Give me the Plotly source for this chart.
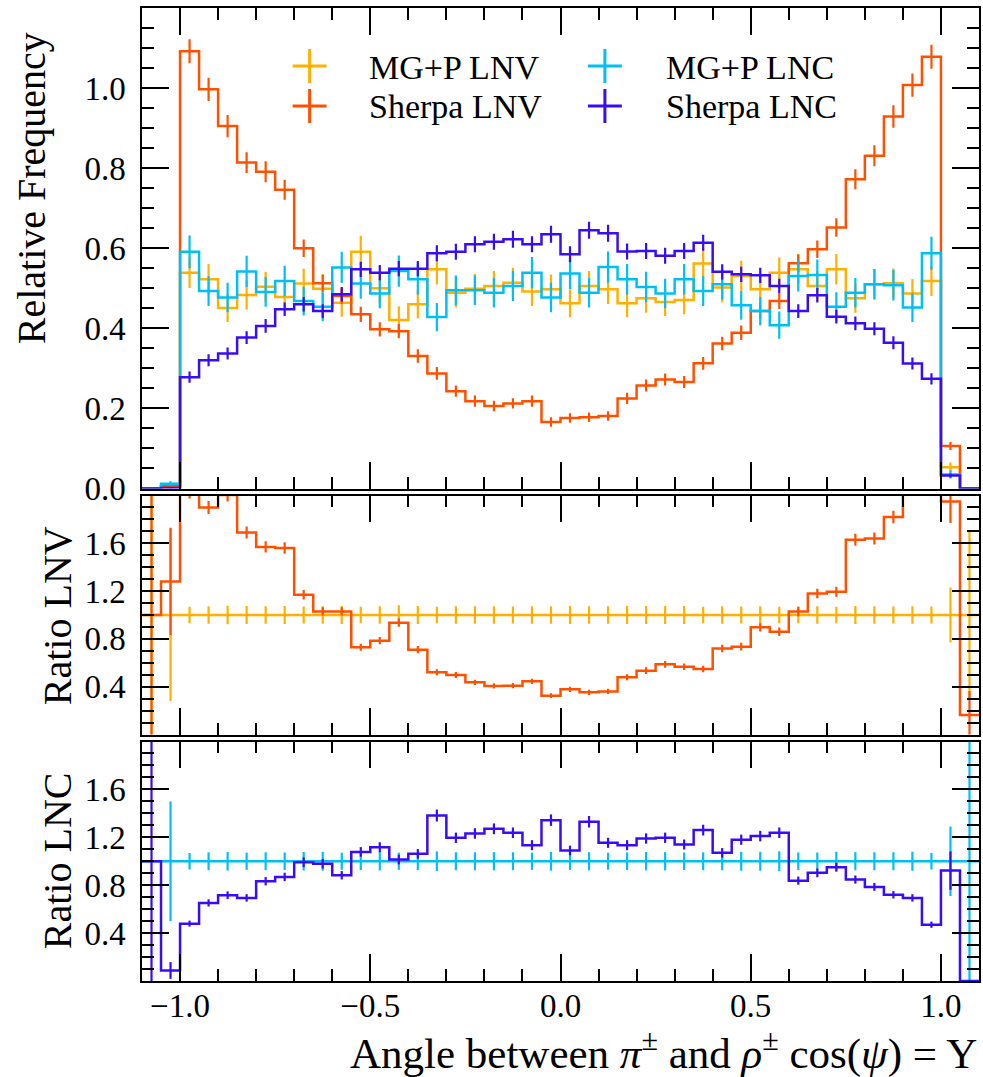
import plotly.graph_objects as go

# ---------------- data ----------------
bin_edges = [round(-1.1 + 0.05 * i, 2) for i in range(45)]
bin_centers = [round(-1.075 + 0.05 * i, 3) for i in range(44)]

mgp_lnv = [0.0, 0.005,
           0.539, 0.5225, 0.451, 0.483, 0.504, 0.478, 0.512, 0.499, 0.464, 0.591,
           0.5, 0.421, 0.46, 0.5475, 0.489, 0.499, 0.506, 0.514, 0.492, 0.4975,
           0.4625, 0.506, 0.4975, 0.4625, 0.475, 0.466, 0.471, 0.562, 0.502, 0.531,
           0.4975, 0.539, 0.5475, 0.506, 0.5475, 0.475, 0.51, 0.5125, 0.487, 0.518,
           0.053, 0.0]
mgp_lnv_err = [0.0, 0.004,
               0.038, 0.038, 0.035, 0.036, 0.037, 0.036, 0.037, 0.037, 0.035, 0.040,
               0.037, 0.034, 0.035, 0.038, 0.036, 0.037, 0.037, 0.037, 0.036, 0.037,
               0.035, 0.037, 0.037, 0.035, 0.036, 0.035, 0.036, 0.039, 0.037, 0.038,
               0.037, 0.038, 0.038, 0.037, 0.038, 0.036, 0.037, 0.037, 0.036, 0.037,
               0.012, 0.0]

sherpa_lnv = [0.0, 0.0064,
              1.092, 0.997, 0.905, 0.814, 0.791, 0.746, 0.6, 0.5125, 0.481, 0.435,
              0.3975, 0.393, 0.331, 0.2875, 0.243, 0.218, 0.206, 0.2125, 0.218, 0.166,
              0.176, 0.178, 0.181, 0.225, 0.2575, 0.2725, 0.266, 0.3125, 0.362, 0.389,
              0.443, 0.468, 0.5625, 0.5975, 0.652, 0.7725, 0.831, 0.929, 1.0075, 1.078,
              0.106, 0.0]
sherpa_lnv_err = [0.0, 0.004,
                  0.030, 0.029, 0.028, 0.026, 0.026, 0.025, 0.022, 0.021, 0.020, 0.019,
                  0.018, 0.018, 0.017, 0.016, 0.014, 0.014, 0.013, 0.013, 0.014, 0.012,
                  0.012, 0.012, 0.012, 0.014, 0.015, 0.015, 0.015, 0.016, 0.017, 0.018,
                  0.019, 0.020, 0.022, 0.022, 0.023, 0.025, 0.026, 0.028, 0.029, 0.030,
                  0.010, 0.0]

mgp_lnc = [0.0, 0.012,
           0.591, 0.493, 0.477, 0.542, 0.491, 0.518, 0.468, 0.454, 0.552, 0.512,
           0.487, 0.543, 0.5225, 0.428, 0.495, 0.495, 0.489, 0.506, 0.539, 0.477,
           0.537, 0.489, 0.553, 0.5225, 0.503, 0.487, 0.5225, 0.493, 0.51, 0.4575,
           0.443, 0.408, 0.531, 0.533, 0.454, 0.489, 0.51, 0.5075, 0.452, 0.5875,
           0.035, 0.0]
mgp_lnc_err = [0.0, 0.006,
               0.041, 0.037, 0.037, 0.039, 0.037, 0.038, 0.036, 0.036, 0.039, 0.038,
               0.037, 0.039, 0.038, 0.035, 0.037, 0.037, 0.037, 0.038, 0.039, 0.037,
               0.039, 0.037, 0.039, 0.038, 0.038, 0.037, 0.038, 0.037, 0.038, 0.036,
               0.035, 0.034, 0.039, 0.039, 0.036, 0.037, 0.038, 0.038, 0.036, 0.041,
               0.010, 0.0]

sherpa_lnc = [0.0, 0.001,
              0.278, 0.32, 0.337, 0.377, 0.406, 0.4475, 0.46, 0.443, 0.485, 0.5475,
              0.539, 0.549, 0.549, 0.5875, 0.591, 0.61, 0.616, 0.6225, 0.61, 0.635,
              0.585, 0.645, 0.6375, 0.592, 0.593, 0.581, 0.593, 0.614, 0.541, 0.535,
              0.5325, 0.506, 0.443, 0.4825, 0.429, 0.4125, 0.399, 0.364, 0.312, 0.274,
              0.0325, 0.0]
sherpa_lnc_err = [0.0, 0.001,
                  0.014, 0.015, 0.015, 0.016, 0.017, 0.017, 0.018, 0.017, 0.018, 0.019,
                  0.019, 0.019, 0.019, 0.020, 0.020, 0.020, 0.020, 0.021, 0.020, 0.021,
                  0.020, 0.021, 0.021, 0.020, 0.020, 0.020, 0.020, 0.020, 0.019, 0.019,
                  0.019, 0.018, 0.017, 0.018, 0.017, 0.017, 0.016, 0.016, 0.015, 0.014,
                  0.005, 0.0]

# ratio panels
ratio_lnv_ref = [1.0] * 44
ratio_lnv_ref_err = [3.0, 0.72,
                     0.070, 0.073, 0.078, 0.075, 0.073, 0.075, 0.072, 0.074, 0.075, 0.068,
                     0.074, 0.081, 0.076, 0.069, 0.074, 0.074, 0.073, 0.072, 0.073, 0.074,
                     0.076, 0.073, 0.074, 0.076, 0.076, 0.075, 0.076, 0.069, 0.074, 0.072,
                     0.074, 0.070, 0.069, 0.073, 0.069, 0.076, 0.073, 0.072, 0.074, 0.071,
                     0.23, 0.70]
ratio_lnv = [1.0, 1.28,
             2.03, 1.90, 2.005, 1.69, 1.57, 1.56, 1.17, 1.03, 1.03, 0.73,
             0.785, 0.936, 0.71, 0.52, 0.498, 0.437, 0.406, 0.408, 0.445, 0.325,
             0.378, 0.353, 0.36, 0.48, 0.534, 0.587, 0.567, 0.548, 0.72, 0.735,
             0.897, 0.86, 1.03, 1.18, 1.195, 1.63, 1.64, 1.82, 2.07, 2.08,
             1.95, 0.163]
ratio_lnv_err = [3.0, 0.45,
                 0.055, 0.055, 0.055, 0.050, 0.048, 0.048, 0.040, 0.035, 0.035, 0.030,
                 0.030, 0.035, 0.030, 0.025, 0.025, 0.022, 0.022, 0.022, 0.022, 0.020,
                 0.022, 0.022, 0.022, 0.025, 0.028, 0.028, 0.028, 0.028, 0.032, 0.032,
                 0.035, 0.035, 0.040, 0.040, 0.042, 0.050, 0.050, 0.052, 0.055, 0.055,
                 0.18, 0.20]

ratio_lnc_ref = [1.0] * 44
ratio_lnc_ref_err = [0.0, 0.50,
                     0.069, 0.075, 0.078, 0.072, 0.075, 0.073, 0.077, 0.079, 0.071, 0.074,
                     0.076, 0.072, 0.073, 0.082, 0.075, 0.075, 0.076, 0.075, 0.072, 0.078,
                     0.073, 0.076, 0.071, 0.073, 0.076, 0.076, 0.073, 0.075, 0.075, 0.079,
                     0.079, 0.083, 0.073, 0.073, 0.079, 0.076, 0.075, 0.075, 0.080, 0.070,
                     0.29, 3.0]
ratio_lnc = [1.0, 0.088,
             0.479, 0.652, 0.716, 0.694, 0.833, 0.869, 0.992, 0.98, 0.883, 1.078,
             1.117, 1.014, 1.062, 1.382, 1.196, 1.232, 1.271, 1.238, 1.134, 1.343,
             1.09, 1.33, 1.154, 1.134, 1.19, 1.196, 1.14, 1.26, 1.07, 1.18,
             1.21, 1.238, 0.838, 0.903, 0.95, 0.847, 0.786, 0.72, 0.694, 0.47,
             0.922, 0.0]
ratio_lnc_err = [3.0, 0.07,
                 0.025, 0.030, 0.032, 0.031, 0.035, 0.035, 0.040, 0.040, 0.035, 0.040,
                 0.042, 0.040, 0.040, 0.050, 0.043, 0.044, 0.045, 0.044, 0.042, 0.048,
                 0.040, 0.048, 0.042, 0.042, 0.043, 0.043, 0.042, 0.045, 0.040, 0.043,
                 0.044, 0.044, 0.034, 0.036, 0.037, 0.034, 0.033, 0.031, 0.031, 0.026,
                 0.16, 0.0]

legend_labels = ["MG+P LNV", "Sherpa LNV", "MG+P LNC", "Sherpa LNC"]
C_YEL = "#FFB000"
C_ORA = "#FF5000"
C_CYA = "#00BFF5"
C_BLU = "#3A0CF5"

FONT = "Liberation Serif"
W, H = 983, 1077
ML, MR, MT, MB = 142, 2, 8, 96
PW, PH = W - ML - MR, H - MT - MB


def px_x(px):
    return (px - ML) / PW


def px_y(py):
    return (H - MB - py) / PH


fig = go.Figure()


def add_hist(vals, errs, color, xa, ya):
    fig.add_trace(go.Scatter(
        x=bin_edges, y=list(vals) + [vals[-1]], mode="lines",
        line=dict(color=color, width=2.5, shape="hv"),
        xaxis=xa, yaxis=ya, showlegend=False, hoverinfo="skip"))
    fig.add_trace(go.Scatter(
        x=bin_centers, y=vals, mode="markers",
        marker=dict(size=1, color="rgba(0,0,0,0)"),
        error_y=dict(type="data", array=errs, visible=True, color=color,
                     thickness=2.2, width=0),
        xaxis=xa, yaxis=ya, showlegend=False, hoverinfo="skip"))


# top panel
add_hist(mgp_lnv, mgp_lnv_err, C_YEL, "x", "y")
add_hist(sherpa_lnv, sherpa_lnv_err, C_ORA, "x", "y")
add_hist(mgp_lnc, mgp_lnc_err, C_CYA, "x", "y")
add_hist(sherpa_lnc, sherpa_lnc_err, C_BLU, "x", "y")
# middle
add_hist(ratio_lnv_ref, ratio_lnv_ref_err, C_YEL, "x2", "y2")
add_hist(ratio_lnv, ratio_lnv_err, C_ORA, "x2", "y2")
# bottom
add_hist(ratio_lnc_ref, ratio_lnc_ref_err, C_CYA, "x3", "y3")
add_hist(ratio_lnc, ratio_lnc_err, C_BLU, "x3", "y3")

tickfont = dict(family=FONT, size=33, color="black")
common = dict(showline=True, linewidth=1.5, linecolor="black", mirror="allticks",
              ticks="inside", ticklen=27, tickwidth=1.5, tickcolor="black",
              showgrid=False, zeroline=False, tickfont=tickfont)
minor_x = dict(ticks="inside", ticklen=12, tickwidth=1.5, tickcolor="black",
               dtick=0.1, tick0=0, showgrid=False)

xcommon = dict(common, range=[-1.1, 1.1], tickmode="array",
               tickvals=[-1.0, -0.5, 0.0, 0.5, 1.0], tickformat=".1f",
               minor=minor_x)

fig.update_layout(
    width=W, height=H,
    margin=dict(l=ML, r=MR, t=MT, b=MB),
    paper_bgcolor="white", plot_bgcolor="white",
    xaxis=dict(xcommon, anchor="y", showticklabels=False),
    xaxis2=dict(xcommon, anchor="y2", matches="x", showticklabels=False),
    xaxis3=dict(xcommon, anchor="y3", matches="x", showticklabels=True,
                ticklabelstandoff=-5),
    yaxis=dict(common, domain=[px_y(488.5), 1.0], range=[0, 1.2], tickmode="array",
               tickvals=[0.0, 0.2, 0.4, 0.6, 0.8, 1.0], tickformat=".1f",
               ticklabelstandoff=8,
               minor=dict(ticks="inside", ticklen=12, tickwidth=1.5, tickcolor="black",
                          dtick=0.05, tick0=0, showgrid=False)),
    yaxis2=dict(common, domain=[px_y(734.5), px_y(495.5)], range=[0, 2], tickmode="array",
                tickvals=[0.4, 0.8, 1.2, 1.6], tickformat=".1f", ticklabelstandoff=8,
                minor=dict(ticks="inside", ticklen=12, tickwidth=1.5, tickcolor="black",
                           dtick=0.1, tick0=0, showgrid=False)),
    yaxis3=dict(common, domain=[0.0, px_y(741.5)], range=[0, 2], tickmode="array",
                tickvals=[0.4, 0.8, 1.2, 1.6], tickformat=".1f", ticklabelstandoff=8,
                minor=dict(ticks="inside", ticklen=12, tickwidth=1.5, tickcolor="black",
                           dtick=0.1, tick0=0, showgrid=False)),
)

annots = []
shapes = []
title_font = dict(family=FONT, size=40, color="black")
annots.append(dict(text="Relative Frequency", textangle=-90, xref="paper", yref="paper",
                   x=px_x(31), y=px_y(188), xanchor="center", yanchor="middle",
                   showarrow=False, font=title_font))
annots.append(dict(text="Ratio LNV", textangle=-90, xref="paper", yref="paper",
                   x=px_x(57), y=px_y(616), xanchor="center", yanchor="middle",
                   showarrow=False, font=title_font))
annots.append(dict(text="Ratio LNC", textangle=-90, xref="paper", yref="paper",
                   x=px_x(57), y=px_y(861), xanchor="center", yanchor="middle",
                   showarrow=False, font=title_font))
annots.append(dict(text="Angle between <i>π</i><sup>±</sup> and <i>ρ</i><sup>±</sup> cos(<i>ψ</i>) = Y",
                   xref="paper", yref="paper", x=1.0, y=px_y(1050),
                   xanchor="right", yanchor="middle", showarrow=False,
                   font=dict(family=FONT, size=43, color="black")))

# manual legend
leg_font = dict(family=FONT, size=34, color="black")
leg_items = [(legend_labels[0], C_YEL, 310, 66, 370),
             (legend_labels[1], C_ORA, 310, 106, 370),
             (legend_labels[2], C_CYA, 606, 66, 667),
             (legend_labels[3], C_BLU, 606, 106, 667)]
for lab, col, cx, cy, tx in leg_items:
    shapes.append(dict(type="line", xref="paper", yref="paper",
                       x0=px_x(cx - 17), x1=px_x(cx + 17), y0=px_y(cy), y1=px_y(cy),
                       line=dict(color=col, width=3)))
    shapes.append(dict(type="line", xref="paper", yref="paper",
                       x0=px_x(cx), x1=px_x(cx), y0=px_y(cy - 17), y1=px_y(cy + 17),
                       line=dict(color=col, width=3)))
    annots.append(dict(text=lab, xref="paper", yref="paper", x=px_x(tx - 2), y=px_y(cy + 1),
                       xanchor="left", yanchor="middle", showarrow=False, font=leg_font))

fig.update_layout(annotations=annots, shapes=shapes)

fig.write_html("out.html", config={"displayModeBar": False},
               post_script="document.body.style.margin='0px';")
